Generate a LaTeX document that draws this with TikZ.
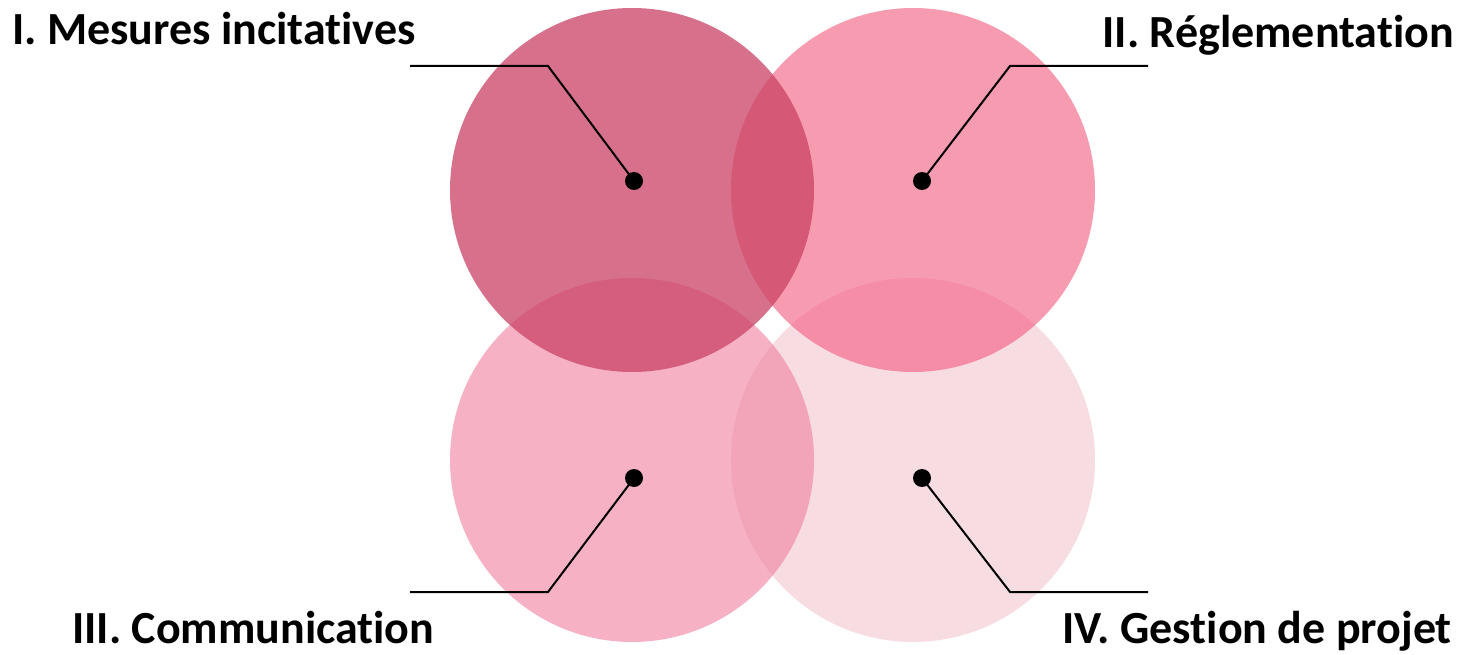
\documentclass[tikz,border=0pt]{standalone}
\usepackage{fontspec}
\setmainfont{Carlito}
\newcommand\nolig{\kern0pt}
\definecolor{roseA}{RGB}{202,66,100}
\definecolor{roseB}{RGB}{242,88,125}
\definecolor{roseC}{RGB}{240,127,157}
\definecolor{roseD}{RGB}{242,197,207}
\tikzset{
  disc/.style={circle,inner sep=0pt,minimum size=364pt},
  pin/.style={circle,fill=black,inner sep=0pt,minimum size=18pt},
  lead/.style={line width=2pt},
  label/.style={inner sep=0pt,font=\fontsize{46}{55}\selectfont\bfseries}
}
\begin{document}
\begin{tikzpicture}[x=1pt,y=-1pt]
\path[use as bounding box] (0,0) rectangle (1466,655);
% circles, the first one last
\node[disc,fill=roseD,fill opacity=.6] (c4) at (913,460) {};
\node[disc,fill=roseC,fill opacity=.6] (c3) at (632,460) {};
\node[disc,fill=roseB,fill opacity=.6] (c2) at (913,190) {};
\node[disc,fill=roseA,fill opacity=.75] (c1) at (632,190) {};
\node[pin] (p1) at (634,181) {};
\node[pin] (p2) at (922,181) {};
\node[pin] (p3) at (634,478) {};
\node[pin] (p4) at (922,478) {};
\coordinate (e1) at (410,66);
\coordinate (e2) at (1148,66);
\coordinate (e3) at (410,592);
\coordinate (e4) at (1148,592);
\draw[lead] (e1) -- (548,66) -- (p1.center);
\draw[lead] (e2) -- (1010,66) -- (p2.center);
\draw[lead] (e3) -- (548,592) -- (p3.center);
\draw[lead] (e4) -- (1010,592) -- (p4.center);
\node[label,anchor=base west] (t1) at (12,45) {I. Mesures incitat\nolig ives};
\node[label,anchor=base east] (t2) at (1454,48) {II. Réglementat\nolig ion};
\node[label,anchor=base west] (t3) at (72,643) {III. Communicat\nolig ion};
\node[label,anchor=base east] (t4) at (1452,643) {IV. Gest\nolig ion de projet};
\end{tikzpicture}
\end{document}
